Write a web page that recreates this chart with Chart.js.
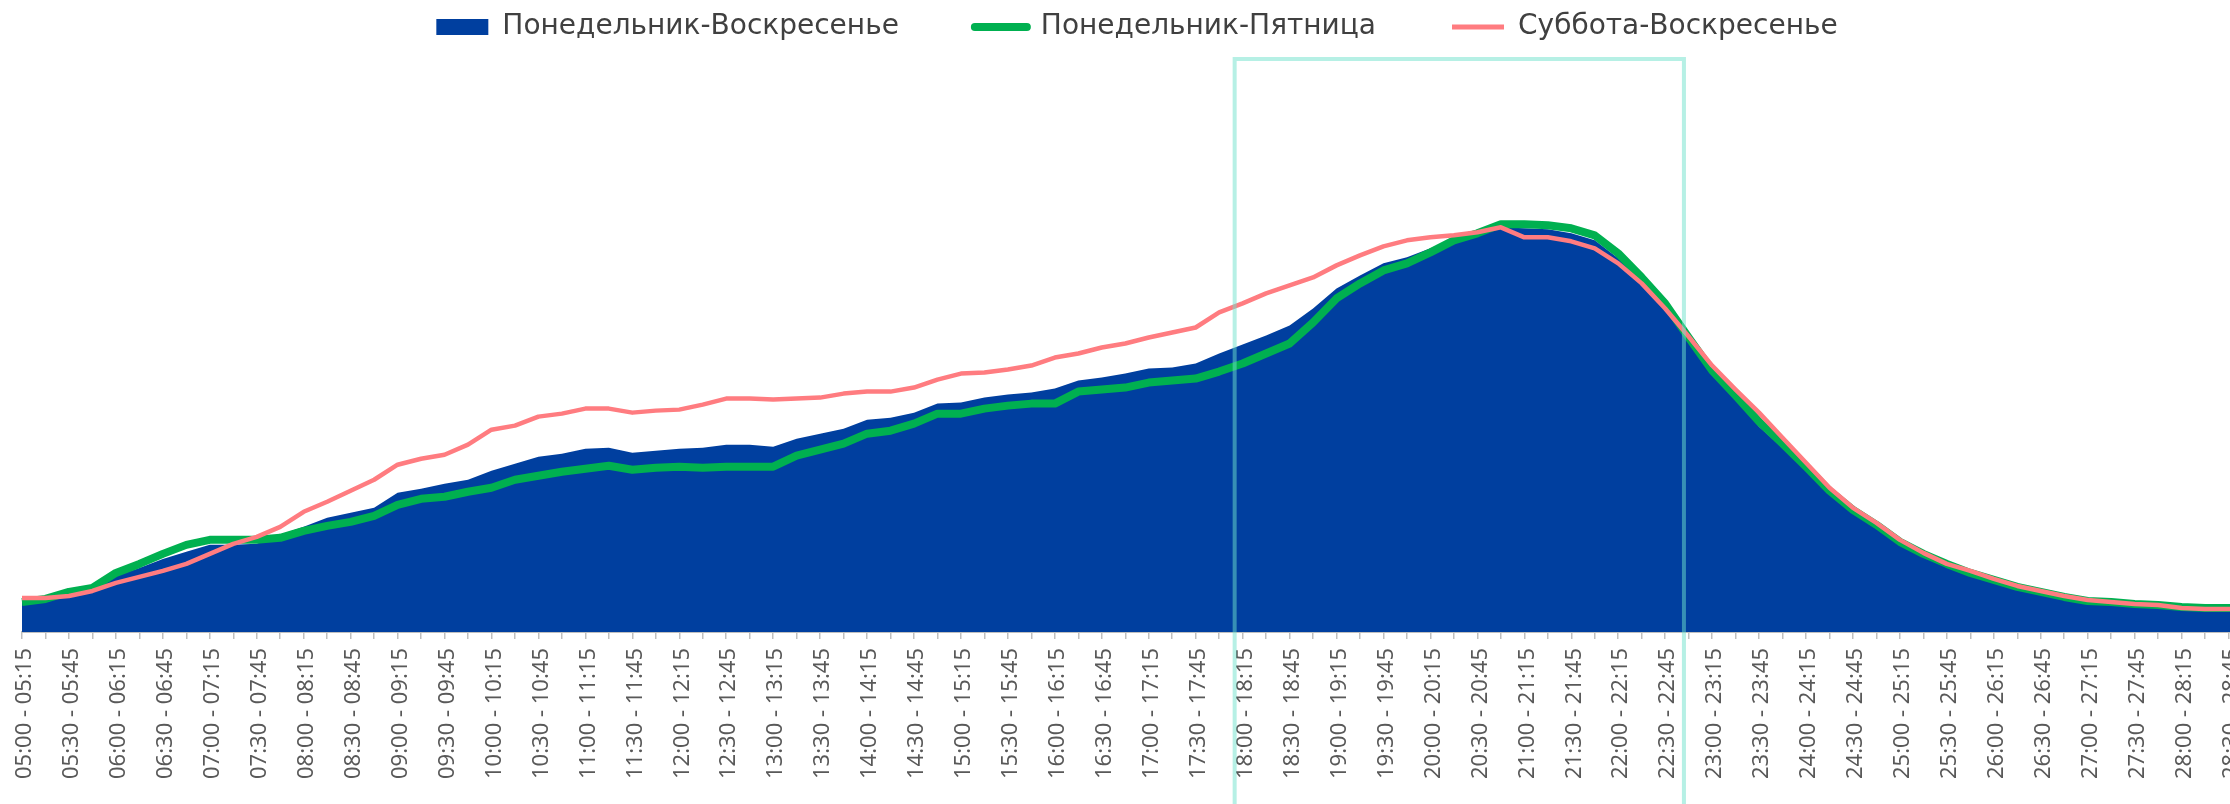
<!DOCTYPE html>
<html>
<head>
<meta charset="utf-8">
<script src="https://cdn.jsdelivr.net/npm/chart.js@4.4.1/dist/chart.umd.min.js"></script>
<style>
  html, body { margin: 0; padding: 0; background: #ffffff; overflow: hidden; }
  #wrap { width: 2230px; height: 804px; overflow: hidden; }
</style>
</head>
<body>
<div id="wrap"><canvas id="chart" width="2288" height="804"></canvas></div>
<script>
// 15-minute intervals, 05:00 .. 29:00
const timeSlots = [
    "05:00 - 05:15", "05:15 - 05:30", "05:30 - 05:45", "05:45 - 06:00",
    "06:00 - 06:15", "06:15 - 06:30", "06:30 - 06:45", "06:45 - 07:00",
    "07:00 - 07:15", "07:15 - 07:30", "07:30 - 07:45", "07:45 - 08:00",
    "08:00 - 08:15", "08:15 - 08:30", "08:30 - 08:45", "08:45 - 09:00",
    "09:00 - 09:15", "09:15 - 09:30", "09:30 - 09:45", "09:45 - 10:00",
    "10:00 - 10:15", "10:15 - 10:30", "10:30 - 10:45", "10:45 - 11:00",
    "11:00 - 11:15", "11:15 - 11:30", "11:30 - 11:45", "11:45 - 12:00",
    "12:00 - 12:15", "12:15 - 12:30", "12:30 - 12:45", "12:45 - 13:00",
    "13:00 - 13:15", "13:15 - 13:30", "13:30 - 13:45", "13:45 - 14:00",
    "14:00 - 14:15", "14:15 - 14:30", "14:30 - 14:45", "14:45 - 15:00",
    "15:00 - 15:15", "15:15 - 15:30", "15:30 - 15:45", "15:45 - 16:00",
    "16:00 - 16:15", "16:15 - 16:30", "16:30 - 16:45", "16:45 - 17:00",
    "17:00 - 17:15", "17:15 - 17:30", "17:30 - 17:45", "17:45 - 18:00",
    "18:00 - 18:15", "18:15 - 18:30", "18:30 - 18:45", "18:45 - 19:00",
    "19:00 - 19:15", "19:15 - 19:30", "19:30 - 19:45", "19:45 - 20:00",
    "20:00 - 20:15", "20:15 - 20:30", "20:30 - 20:45", "20:45 - 21:00",
    "21:00 - 21:15", "21:15 - 21:30", "21:30 - 21:45", "21:45 - 22:00",
    "22:00 - 22:15", "22:15 - 22:30", "22:30 - 22:45", "22:45 - 23:00",
    "23:00 - 23:15", "23:15 - 23:30", "23:30 - 23:45", "23:45 - 24:00",
    "24:00 - 24:15", "24:15 - 24:30", "24:30 - 24:45", "24:45 - 25:00",
    "25:00 - 25:15", "25:15 - 25:30", "25:30 - 25:45", "25:45 - 26:00",
    "26:00 - 26:15", "26:15 - 26:30", "26:30 - 26:45", "26:45 - 27:00",
    "27:00 - 27:15", "27:15 - 27:30", "27:30 - 27:45", "27:45 - 28:00",
    "28:00 - 28:15", "28:15 - 28:30", "28:30 - 28:45", "28:45 - 29:00"
];

// Понедельник-Воскресенье (area)
const allWeek = [
    31, 32, 39, 43, 56, 64, 73, 80, 87, 87, 88, 97,
    105, 114, 119, 124, 139, 143, 148, 152, 161, 168, 175, 178,
    183, 184, 179, 181, 183, 184, 187, 187, 185, 193, 198, 203,
    212, 214, 219, 228, 229, 234, 237, 239, 243, 251, 254, 258,
    263, 264, 268, 278, 287, 296, 306, 323, 343, 356, 368, 374,
    383, 391, 397, 404, 403, 402, 398, 391, 373, 351, 324, 294,
    259, 234, 205, 184, 162, 138, 120, 105, 89, 77, 67, 58,
    50, 44, 39, 34, 30, 29, 27, 26, 24, 22, 22, 22
];

// Понедельник-Пятница
const weekdays = [
    30, 33, 40, 44, 59, 68, 78, 87, 92, 92, 92, 94,
    101, 106, 110, 116, 127, 133, 135, 140, 144, 152, 156, 160,
    163, 166, 162, 164, 165, 164, 165, 165, 165, 176, 182, 188,
    198, 201, 208, 218, 218, 223, 226, 228, 228, 240, 242, 244,
    249, 251, 253, 260, 268, 278, 288, 309, 333, 348, 361, 368,
    379, 391, 398, 407, 407, 406, 403, 396, 378, 354, 328, 294,
    261, 236, 210, 188, 165, 141, 122, 107, 90, 78, 68, 59,
    52, 45, 40, 35, 31, 30, 28, 27, 25, 24, 24, 24
];

// Суббота-Воскресенье
const weekend = [
    34, 34, 36, 41, 49, 55, 61, 68, 78, 88, 95, 105,
    120, 130, 141, 152, 167, 173, 177, 187, 202, 206, 215, 218,
    223, 223, 219, 221, 222, 227, 233, 233, 232, 233, 234, 238,
    240, 240, 244, 252, 258, 259, 262, 266, 274, 278, 284, 288,
    294, 299, 304, 319, 328, 338, 346, 354, 366, 376, 385, 391,
    394, 396, 399, 404, 394, 394, 390, 383, 368, 348, 323, 295,
    266, 242, 219, 194, 169, 144, 124, 109, 92, 79, 68, 61,
    53, 46, 41, 36, 32, 30, 28, 27, 24, 23, 23, 23
];

const yMax = 580;

// highlighted evening window (category positions) and its top edge (value)
const highlightFrom = 51.66;
const highlightTo = 70.8;
const highlightTop = 572;

const highlightBox = {
    id: 'highlightBox',
    afterDraw: (chart) => {
        const { ctx, scales } = chart;
        const left = scales.x.getPixelForValue(highlightFrom);
        const right = scales.x.getPixelForValue(highlightTo);
        const top = scales.y.getPixelForValue(highlightTop);
        const bottom = chart.height + 10;

        ctx.save();
        ctx.beginPath();
        ctx.moveTo(left, bottom);
        ctx.lineTo(left, top);
        ctx.lineTo(right, top);
        ctx.lineTo(right, bottom);
        ctx.lineWidth = 4;
        ctx.strokeStyle = 'rgba(110, 226, 204, 0.5)';
        ctx.stroke();
        ctx.restore();
    }
};

const ctx = document.getElementById('chart');

new Chart(ctx, {
    type: 'line',
    data: {
        labels: timeSlots,
        datasets: [
            {
                label: 'Понедельник-Воскресенье',
                data: allWeek,
                fill: 'origin',
                backgroundColor: '#003f9f',
                borderColor: '#003f9f',
                borderWidth: 0,
                pointRadius: 0,
                order: 3,
                legendStyle: 'rect'
            },
            {
                label: 'Понедельник-Пятница',
                data: weekdays,
                fill: false,
                borderColor: '#00b050',
                borderWidth: 8,
                borderJoinStyle: 'round',
                pointRadius: 0,
                order: 2,
                legendStyle: 'line',
                legendCap: 'round'
            },
            {
                label: 'Суббота-Воскресенье',
                data: weekend,
                fill: false,
                borderColor: '#ff7c80',
                borderWidth: 4.5,
                borderJoinStyle: 'round',
                pointRadius: 0,
                order: 1,
                legendStyle: 'line',
                legendCap: 'butt'
            }
        ]
    },
    options: {
        responsive: false,
        devicePixelRatio: 1,
        animation: false,
        layout: {
            padding: { top: -63, left: 22, right: 36, bottom: 16 }
        },
        plugins: {
            tooltip: { enabled: false },
            legend: {
                position: 'top',
                labels: {
                    usePointStyle: true,
                    pointStyleWidth: 52,
                    boxHeight: 16,
                    padding: 76,
                    color: '#404040',
                    font: { family: 'DejaVu Sans', size: 28 },
                    generateLabels: (chart) => chart.data.datasets.map((ds, i) => ({
                        text: ds.label,
                        datasetIndex: i,
                        hidden: false,
                        pointStyle: ds.legendStyle,
                        fillStyle: ds.legendStyle === 'rect' ? ds.backgroundColor : 'rgba(0,0,0,0)',
                        strokeStyle: ds.borderColor,
                        lineWidth: ds.legendStyle === 'rect' ? 0 : (ds.borderWidth === 8 ? 8 : 5),
                        lineCap: ds.legendCap || 'butt',
                        fontColor: '#404040'
                    }))
                }
            }
        },
        scales: {
            x: {
                offset: false,
                border: { display: true, color: '#bfbfbf', width: 2 },
                grid: {
                    display: true,
                    drawOnChartArea: false,
                    drawTicks: true,
                    tickLength: 7,
                    color: '#bfbfbf',
                    lineWidth: 1.5
                },
                ticks: {
                    autoSkip: false,
                    minRotation: 90,
                    maxRotation: 90,
                    padding: 9,
                    labelOffset: 3,
                    color: '#595959',
                    font: { family: 'Noto Sans', size: 22 },
                    callback: function (value, index) {
                        return index % 2 === 0 ? this.getLabelForValue(value) : '';
                    }
                }
            },
            y: {
                display: false,
                min: 0,
                max: yMax
            }
        }
    },
    plugins: [highlightBox]
});
</script>
</body>
</html>
